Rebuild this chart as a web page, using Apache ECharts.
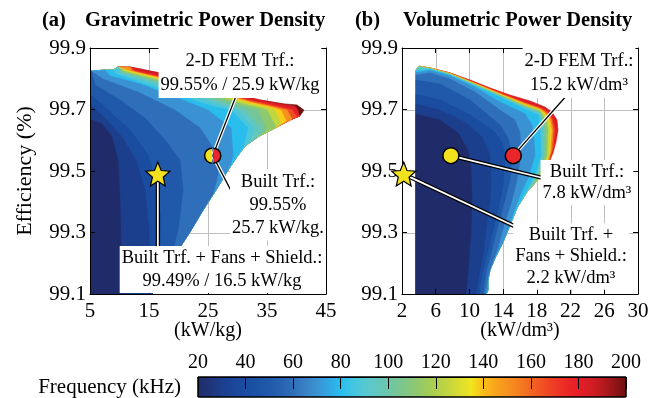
<!DOCTYPE html>
<html>
<head>
<meta charset="utf-8">
<script src="https://cdn.jsdelivr.net/npm/echarts@6.0.0/dist/echarts.min.js"></script>
<style>html,body{margin:0;padding:0;background:#fff;}#chart{width:660px;height:398px;}</style>
</head>
<body>
<div id="chart"></div>
<script>
// ================= DATA =================
const xTicksA = [5, 15, 25, 35, 45];
const xTicksB = [2, 6, 10, 14, 18, 22, 26, 30];
const yTicks = [99.1, 99.3, 99.5, 99.7, 99.9];
const freqTicks = [20, 40, 60, 80, 100, 120, 140, 160, 180, 200];

// highlighted designs
const builtFansA = [16.5, 99.49];
const builtA = [25.7, 99.55];
const femA = [25.9, 99.55];
const builtFansB = [2.2, 99.49];
const builtB = [7.8, 99.55];
const femB = [15.2, 99.55];

// annotation texts
const txtFemA = '2-D FEM Trf.:\n99.55% / 25.9 kW/kg';
const txtBuiltA = 'Built Trf.:\n99.55%\n25.7 kW/kg.';
const txtFansA = 'Built Trf. + Fans + Shield.:\n99.49% / 16.5 kW/kg';
const txtFemB = '2-D FEM Trf.:\n15.2 kW/dm³';
const txtBuiltB = 'Built Trf.:\n7.8 kW/dm³';
const txtFansB = 'Built Trf. +\nFans + Shield.:\n2.2 kW/dm³';

// ---- (a) design space: outer boundary (kW/kg, %) ----
const topA = [[5.17,99.825],[7.54,99.828],[8.9,99.828],[9.75,99.838],[11.78,99.838],[13.47,99.832],[15.17,99.825],[16.86,99.819],[21.1,99.799],[25.34,99.776],[29.58,99.750],[33.81,99.731],[38.05,99.718],[40.08,99.715]];
const rightA = [[41.27,99.698],[40.59,99.679],[38.9,99.666],[36.36,99.640],[33.47,99.611],[31.27,99.581],[29.75,99.542],[28.39,99.503],[26.36,99.438],[24.15,99.373],[21.95,99.302],[19.41,99.227],[16.86,99.152],[15.51,99.1]];
const cornerA = [5.17, 99.1];
// frequency fronts (kHz) in (a)
const levelsA = [200, 185, 178, 165, 150, 138, 125, 112, 103, 95, 88, 80, 70, 60, 50, 40, 30, 20];
const tipA  = [[38.05,99.716],[39.75,99.711],[40.25,99.698],[40.4,99.680]];
const f180A = [[13.47,99.825],[23.64,99.780],[32.12,99.733],[37.2,99.713],[39.75,99.702],[40.42,99.682]];
const f160A = [[12.63,99.825],[23.64,99.776],[32.12,99.729],[36.36,99.711],[39.24,99.698],[40.08,99.676]];
const f150A = [[12.12,99.825],[23.64,99.773],[32.12,99.726],[35.85,99.710],[38.39,99.698],[39.24,99.669]];
const f140A = [[11.78,99.825],[23.64,99.770],[32.12,99.723],[35.51,99.708],[37.37,99.698],[38.22,99.663]];
const f130A = [[11.44,99.824],[23.64,99.767],[31.78,99.720],[34.83,99.707],[36.36,99.698],[37.37,99.653]];
const f120A = [[11.10,99.822],[23.64,99.763],[31.27,99.716],[33.81,99.705],[35.0,99.698],[36.53,99.643]];
const f110A = [[10.76,99.820],[22.8,99.760],[30.42,99.713],[33.47,99.698],[34.83,99.640],[34.49,99.624]];
const f100A = [[10.42,99.819],[21.95,99.757],[29.07,99.711],[31.27,99.698],[33.98,99.640],[33.14,99.607]];
const f90A  = [[10.08,99.817],[21.1,99.754],[27.88,99.710],[30.08,99.698],[32.8,99.640],[32.12,99.594]];
const f80A  = [[9.41,99.815],[19.41,99.750],[26.19,99.708],[28.9,99.698],[31.78,99.640],[30.93,99.575]];
const f70A  = [[8.39,99.809],[13.47,99.783],[19.41,99.741],[25.0,99.698],[28.9,99.640],[29.24,99.552],[28.9,99.523]];
const f60A  = [[7.2,99.799],[13.47,99.754],[19.41,99.698],[23.64,99.640],[26.69,99.552],[26.69,99.487],[25.85,99.425]];
const f50A  = [[5.85,99.780],[10.08,99.731],[14.32,99.672],[17.71,99.601],[20.25,99.536],[20.76,99.438],[19.92,99.308],[18.56,99.204]];
const f40A  = [[5.17,99.747],[8.05,99.698],[11.78,99.633],[14.83,99.552],[16.36,99.454],[17.03,99.341],[16.86,99.211],[16.19,99.129]];
const f30A  = [[5.17,99.715],[7.54,99.672],[10.42,99.611],[12.80,99.536],[14.32,99.438],[15.0,99.308],[15.17,99.1]];
const f20A  = [[5.17,99.666],[7.03,99.653],[8.73,99.611],[9.75,99.536],[10.08,99.406],[10.25,99.243],[10.25,99.1]];

// ---- (b) design space: outer boundary (kW/dm3, %) ----
const topB = [[3.66,99.828],[4.02,99.841],[5.32,99.835],[7.69,99.819],[10.07,99.796],[12.44,99.770],[14.81,99.747],[17.19,99.728],[18.97,99.708],[19.80,99.692]];
const rightB = [[20.39,99.666],[20.51,99.633],[20.27,99.594],[19.92,99.559],[19.32,99.520],[18.61,99.487],[17.78,99.461],[16.83,99.432],[15.64,99.380],[14.81,99.324],[13.98,99.269],[13.03,99.217],[12.44,99.178],[12.20,99.146],[12.20,99.113],[11.97,99.1]];
const cornerB = [3.66, 99.1];
const levelsB = [185, 178, 165, 150, 138, 125, 112, 103, 95, 88, 80, 70, 60, 50, 40, 30, 20];
const f180B = [[9.47,99.800],[10.66,99.788],[13.63,99.757],[16.59,99.726],[18.37,99.708],[19.32,99.697],[19.97,99.676],[20.33,99.633],[20.09,99.585],[19.68,99.546]];
const f160B = [[8.64,99.808],[10.66,99.786],[13.63,99.754],[16.59,99.722],[18.37,99.706],[19.20,99.693],[19.80,99.672],[20.09,99.633],[19.92,99.575],[19.44,99.532]];
const f150B = [[7.69,99.818],[10.66,99.785],[13.63,99.752],[16.59,99.720],[18.37,99.703],[19.08,99.690],[19.68,99.669],[19.92,99.633],[19.74,99.568],[19.32,99.523]];
const f140B = [[6.51,99.825],[7.69,99.817],[10.66,99.784],[13.63,99.750],[16.59,99.717],[18.37,99.700],[18.97,99.687],[19.50,99.666],[19.74,99.633],[19.56,99.562],[19.03,99.510]];
const f130B = [[5.32,99.834],[7.69,99.816],[10.66,99.783],[13.63,99.748],[16.59,99.714],[18.37,99.698],[18.85,99.684],[19.32,99.663],[19.56,99.633],[19.38,99.552],[18.73,99.497]];
const f120B = [[4.73,99.836],[5.32,99.833],[7.69,99.815],[10.66,99.781],[13.63,99.747],[16.59,99.712],[18.37,99.695],[18.73,99.680],[19.14,99.659],[19.32,99.633],[19.20,99.552],[18.31,99.480]];
const f110B = [[4.14,99.838],[5.32,99.833],[7.69,99.814],[10.66,99.780],[13.63,99.745],[16.59,99.709],[18.37,99.692],[18.85,99.656],[19.08,99.633],[18.97,99.552],[18.37,99.497],[17.84,99.464]];
const f100B = [[4.02,99.838],[5.32,99.832],[7.69,99.813],[10.66,99.779],[13.63,99.743],[16.59,99.707],[18.37,99.689],[18.67,99.653],[18.85,99.633],[18.79,99.552],[18.02,99.484],[17.19,99.445]];
const f90B  = [[3.90,99.833],[5.32,99.831],[7.69,99.812],[10.66,99.778],[13.63,99.742],[16.59,99.704],[18.37,99.685],[18.49,99.650],[18.61,99.633],[18.61,99.552],[17.78,99.484],[16.65,99.428]];
const f80B  = [[3.66,99.825],[5.32,99.830],[7.69,99.812],[10.66,99.776],[13.63,99.740],[16.59,99.701],[18.14,99.682],[18.37,99.633],[18.49,99.552],[17.90,99.497],[16.95,99.445],[15.76,99.389]];
const f70B  = [[3.66,99.820],[5.32,99.827],[7.69,99.809],[10.66,99.772],[13.63,99.724],[16.59,99.686],[17.42,99.650],[17.66,99.601],[17.78,99.552],[16.95,99.477],[16.0,99.422],[14.93,99.341]];
const f60B  = [[3.66,99.812],[5.32,99.819],[7.69,99.799],[10.66,99.757],[13.63,99.698],[15.41,99.666],[16.0,99.624],[16.12,99.552],[15.64,99.471],[15.05,99.406],[14.22,99.334],[13.27,99.243],[12.32,99.172],[11.85,99.1]];
const f50B  = [[3.66,99.796],[6.51,99.783],[10.07,99.731],[13.63,99.650],[14.58,99.607],[15.05,99.552],[14.81,99.471],[14.22,99.406],[13.39,99.324],[12.68,99.243],[11.97,99.172],[11.61,99.1]];
const f40B  = [[3.66,99.750],[6.51,99.731],[10.07,99.682],[13.03,99.627],[13.98,99.585],[14.22,99.536],[13.98,99.454],[13.51,99.389],[12.80,99.308],[12.08,99.227],[11.49,99.162],[11.14,99.1]];
const f30B  = [[3.66,99.718],[6.51,99.698],[9.47,99.659],[11.49,99.611],[12.44,99.552],[12.56,99.471],[12.44,99.406],[11.97,99.308],[11.61,99.227],[11.14,99.162],[10.78,99.1]];
const f20B  = [[3.66,99.685],[6.51,99.666],[8.64,99.624],[9.83,99.568],[10.19,99.503],[10.31,99.406],[10.19,99.308],[9.95,99.211],[9.59,99.1]];

// colour map of the frequency bar
const cmapStops = [[20,'#202c69'],[25,'#1f3478'],[30,'#1c3f8d'],[35,'#1a479a'],[40,'#1a4ca0'],[45,'#1b52a5'],[50,'#2059aa'],[55,'#2762b0'],[60,'#2f6eb9'],[65,'#3a80c5'],[70,'#3b92d2'],[75,'#31a7e2'],[80,'#29bdee'],[85,'#41c5e2'],[90,'#55c8d2'],[95,'#62c7c0'],[100,'#6cc6aa'],[105,'#79c690'],[110,'#88c778'],[115,'#9acb60'],[120,'#aecf4c'],[125,'#c2d63e'],[130,'#d9dd30'],[135,'#f1e41f'],[140,'#fbbd18'],[145,'#f9a51c'],[150,'#f7921e'],[155,'#f57d20'],[160,'#f26622'],[165,'#f04f23'],[170,'#ee3a25'],[175,'#ec2726'],[180,'#e61e26'],[185,'#d41d24'],[190,'#b81a1f'],[195,'#931518'],[200,'#6b1010']];

// ================= RENDERING =================
const FONT = "'Liberation Serif','Times New Roman',Times,serif";
function hex2rgb(h){return [parseInt(h.slice(1,3),16),parseInt(h.slice(3,5),16),parseInt(h.slice(5,7),16)];}
function cmap(f){
  for (let i=0;i<cmapStops.length-1;i++){
    const a=cmapStops[i], b=cmapStops[i+1];
    if (f<=b[0]){ const t=(f-a[0])/(b[0]-a[0]); const ca=hex2rgb(a[1]), cb=hex2rgb(b[1]);
      return 'rgb('+ca.map((v,k)=>Math.round(v+(cb[k]-v)*t)).join(',')+')'; }
  }
  return cmapStops[cmapStops.length-1][1];
}
function buildPolys(top, right, corner, fronts){
  return fronts.map(fr=>{
    if(!fr) return top.concat(right,[corner]);
    const s=fr[0], e=fr[fr.length-1];
    return top.filter(p=>p[0]<s[0]).concat(fr, right.filter(p=>p[1]<e[1]), [corner]);
  });
}
const polysA = buildPolys(topA, rightA, cornerA, [null,tipA,f180A,f160A,f150A,f140A,f130A,f120A,f110A,f100A,f90A,f80A,f70A,f60A,f50A,f40A,f30A,f20A]);
const polysB = buildPolys(topB, rightB, cornerB, [null,f180B,f160B,f150B,f140B,f130B,f120B,f110B,f100B,f90B,f80B,f70B,f60B,f50B,f40B,f30B,f20B]);

function polySeries(xi, yi, polys, levels){
  return {type:'custom', xAxisIndex:xi, yAxisIndex:yi, z:3, silent:true, clip:true,
    data: polys.map((p,i)=>[p[0][0],p[0][1],levels[i]]),
    renderItem:function(params, api){
      const i=params.dataIndex; const col=cmap(levels[i]);
      return {type:'polygon', z2:i, shape:{points:polys[i].map(p=>api.coord(p))}, style:{fill:col, stroke:col, lineWidth:0.6}};
    }};
}

const tickStyle = {show:true, inside:true, length:5, lineStyle:{color:'#000', width:1}};
const lineStyle = {show:true, onZero:false, lineStyle:{color:'#000', width:1}};
const labStyle = {fontSize:21, fontFamily:FONT, color:'#000', showMinLabel:true, showMaxLabel:true};

function xPair(grid, ticks, name){
  const base = {gridIndex:grid, type:'value', min:ticks[0], max:ticks[ticks.length-1], interval:ticks[1]-ticks[0]};
  return [
    Object.assign({}, base, {position:'bottom', z:10, axisLine:lineStyle, axisTick:tickStyle,
      axisLabel:Object.assign({margin:7}, labStyle), splitLine:{show:false},
      name:name, nameLocation:'middle', nameGap:27, nameMoveOverlap:false,
      nameTextStyle:{fontSize:20, fontFamily:FONT, color:'#000'}}),
    Object.assign({}, base, {position:'top', z:10, axisLine:lineStyle, axisTick:tickStyle, axisLabel:{show:false}, splitLine:{show:false}})
  ];
}
function yPair(grid, name){
  const base = {gridIndex:grid, type:'value', min:yTicks[0], max:yTicks[yTicks.length-1], interval:+(yTicks[1]-yTicks[0]).toFixed(3)};
  const left = Object.assign({}, base, {position:'left', z:10, axisLine:lineStyle, axisTick:tickStyle,
      axisLabel:Object.assign({margin:4, formatter:v=>v.toFixed(1)}, labStyle), splitLine:{show:false}});
  if (name) Object.assign(left, {name:name, nameLocation:'middle', nameGap:54, nameRotate:90, nameMoveOverlap:false,
      nameTextStyle:{fontSize:22, fontFamily:FONT, color:'#000'}});
  return [left, Object.assign({}, base, {position:'right', z:10, axisLine:lineStyle, axisTick:tickStyle, axisLabel:{show:false}, splitLine:{show:false}})];
}
// light grid lines at the tick values (custom series under the coloured regions)
function gridSeries(xi, yi, xt){
  return {type:'custom', xAxisIndex:xi, yAxisIndex:yi, z:2, silent:true, clip:false,
    data: xt.map(x=>[x, yTicks[0]]),
    renderItem:function(params, api){
      const ch=[]; const st={stroke:'#bfbfbf', lineWidth:1, fill:null};
      if (params.dataIndex===0){
        yTicks.slice(1,-1).forEach(y=>{ const p0=api.coord([xt[0],y]), p1=api.coord([xt[xt.length-1],y]);
          const py=Math.round(p0[1])+0.5; ch.push({type:'polyline', shape:{points:[[p0[0],py],[p1[0],py]]}, style:st}); });
      } else if (params.dataIndex < xt.length-1){
        const x=api.value(0); const p0=api.coord([x,yTicks[0]]), p1=api.coord([x,yTicks[yTicks.length-1]]);
        const px=Math.round(p0[0])+0.5; ch.push({type:'polyline', shape:{points:[[px,p0[1]],[px,p1[1]]]}, style:st});
      }
      return {type:'group', children:ch};
    }};
}

const starPath = 'path://M0,-10 L2.645,-3.64 L9.51,-3.09 L4.28,1.39 L5.88,8.09 L0,4.5 L-5.88,8.09 L-4.28,1.39 L-9.51,-3.09 L-2.645,-3.64 Z';
const YEL = '#f2e21e', RED = '#e8262b';

const chart = echarts.init(document.getElementById('chart'), null, {renderer:'canvas'});
const option = {
  animation:false,
  backgroundColor:'#fff',
  grid:[
    {left:90, top:48, width:236, height:246, outerBoundsMode:'none'},
    {left:402, top:48, width:236, height:246, outerBoundsMode:'none'},
    {left:198, top:377, width:428, height:20, outerBoundsMode:'none'}
  ],
  xAxis: [].concat(xPair(0, xTicksA, '(kW/kg)'), xPair(1, xTicksB, '(kW/dm³)'), [
    {gridIndex:2, type:'value', min:freqTicks[0], max:freqTicks[freqTicks.length-1], interval:freqTicks[1]-freqTicks[0],
     position:'top', z:10, axisLine:lineStyle, axisTick:{show:true, inside:true, length:12, lineStyle:{color:'#000', width:1}},
     axisLabel:Object.assign({margin:4}, labStyle, {fontSize:20}), splitLine:{show:false}}
  ]),
  yAxis: [].concat(yPair(0, 'Efficiency (%)'), yPair(1, null), [
    {gridIndex:2, type:'value', min:0, max:1, show:false}
  ]),
  series:[
    gridSeries(0, 0, xTicksA),
    gridSeries(2, 2, xTicksB),
    polySeries(0, 0, polysA, levelsA),
    polySeries(2, 2, polysB, levelsB),
    {type:'custom', xAxisIndex:4, yAxisIndex:4, z:1, silent:true, data:[[freqTicks[0],0]],
     renderItem:function(params, api){
       const p0=api.coord([freqTicks[0],1]), p1=api.coord([freqTicks[freqTicks.length-1],0]);
       const stops=cmapStops.map(s=>({offset:(s[0]-freqTicks[0])/(freqTicks[freqTicks.length-1]-freqTicks[0]), color:s[1]}));
       return {type:'rect', shape:{x:p0[0], y:p0[1], width:p1[0]-p0[0], height:p1[1]-p0[1]},
         style:{fill:new echarts.graphic.LinearGradient(0,0,1,0,stops), stroke:'#000', lineWidth:1}};
     }},
    // (a) markers
    {type:'scatter', xAxisIndex:0, yAxisIndex:0, z:200, silent:true, data:[builtFansA], symbol:starPath, symbolSize:[24,24],
     itemStyle:{color:YEL, borderColor:'#000', borderWidth:1.2, opacity:1}},
    {type:'custom', xAxisIndex:0, yAxisIndex:0, z:200, silent:true, clip:false,
     data:[[builtA[0],builtA[1],0],[femA[0],femA[1],1]],
     renderItem:function(params, api){
       const c=api.coord([api.value(0), api.value(1)]); const left=api.value(2)===0; const r=7.5;
       const a0=left?Math.PI/2:-Math.PI/2, a1=left?Math.PI*1.5:Math.PI/2;
       return {type:'group', children:[
         {type:'sector', shape:{cx:c[0], cy:c[1], r:r, r0:0, startAngle:a0, endAngle:a1}, style:{fill:left?YEL:RED}},
         {type:'arc', shape:{cx:c[0], cy:c[1], r:r, startAngle:a0, endAngle:a1}, style:{fill:null, stroke:'#000', lineWidth:1.5}}
       ]};
     }},
    // (b) markers
    {type:'scatter', xAxisIndex:2, yAxisIndex:2, z:200, silent:true, data:[builtB], symbol:'circle', symbolSize:16,
     itemStyle:{color:YEL, borderColor:'#000', borderWidth:1.5, opacity:1}},
    {type:'scatter', xAxisIndex:2, yAxisIndex:2, z:200, silent:true, data:[femB], symbol:'circle', symbolSize:16,
     itemStyle:{color:RED, borderColor:'#000', borderWidth:1.5, opacity:1}},
    {type:'scatter', xAxisIndex:2, yAxisIndex:2, z:200, silent:true, data:[builtFansB], symbol:starPath, symbolSize:[24,24],
     itemStyle:{color:YEL, borderColor:'#000', borderWidth:1.2, opacity:1}}
  ]
};
chart.setOption(option);

const toA = p => chart.convertToPixel({xAxisIndex:0, yAxisIndex:0}, p);
const toB = p => chart.convertToPixel({xAxisIndex:2, yAxisIndex:2}, p);
const g = [];

// ---- annotations (leader lines + boxed texts) ----
function lead(p, q, dbl){
  const shape = {x1:p[0], y1:p[1], x2:q[0], y2:q[1]};
  if (dbl){
    g.push({type:'line', z:100, silent:true, shape:shape, style:{stroke:'#000', lineWidth:4.2}});
    g.push({type:'line', z:101, silent:true, shape:shape, style:{stroke:'#fff', lineWidth:1.8}});
  } else {
    g.push({type:'line', z:100, silent:true, shape:shape, style:{stroke:'#fff', lineWidth:3.6}});
    g.push({type:'line', z:101, silent:true, shape:shape, style:{stroke:'#000', lineWidth:1.3}});
  }
}
function label(t, x, y, lh){
  g.push({type:'text', z:150, silent:true, x:x, y:y, style:{text:t, fontSize:18.5, fontFamily:FONT, fill:'#000',
    align:'center', verticalAlign:'middle', lineHeight:lh, backgroundColor:'#fff', padding:[1,2]}});
}
const mA = [(builtA[0]+femA[0])/2, builtA[1]];
lead(toA(mA), [236, 96], false);
lead(toA(mA), [238, 204], false);
const sA = toA(builtFansA);
lead(sA, [sA[0], 248], true);
label(txtFemA, 240, 73, 24);
label(txtBuiltA, 278, 205, 23);
label(txtFansA, 222, 269.5, 22.5);

lead(toB(femB), [568, 94], false);
lead(toB(builtB), [543, 178], true);
lead(toB(builtFansB), [527, 232], true);
label(txtFemB, 579, 73, 24);
label(txtBuiltB, 587, 182.5, 21.5);
label(txtFansB, 571, 256.5, 21.5);

// titles and colour-bar caption
function ttl(t, x, bold, size, align){
  g.push({type:'text', z:150, silent:true, x:x, y:21, style:{text:t, fontSize:size, fontWeight:bold?'bold':'normal',
    fontFamily:FONT, fill:'#000', align:align||'left', verticalAlign:'middle'}});
}
ttl('(a)', 42, true, 20.5);
ttl('Gravimetric Power Density', 85, true, 20.5);
ttl('(b)', 355, true, 20.5);
ttl('Volumetric Power Density', 403, true, 20.5);
g.push({type:'text', z:150, silent:true, x:181, y:387, style:{text:'Frequency (kHz)', fontSize:21, fontFamily:FONT, fill:'#000', align:'right', verticalAlign:'middle'}});

chart.setOption({graphic:{elements:g}});
</script>
</body>
</html>
